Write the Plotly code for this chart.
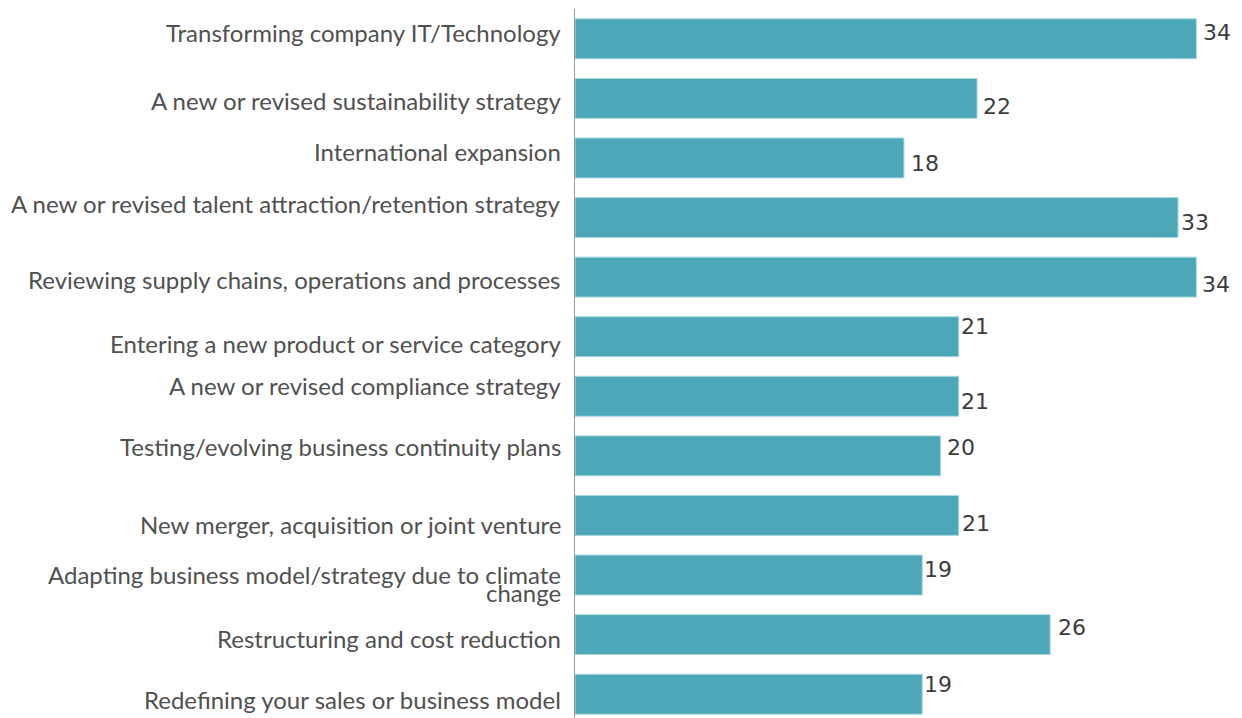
import plotly.graph_objects as go

categories = [
    "Transforming company IT/Technology",
    "A new or revised sustainability strategy",
    "International expansion",
    "A new or revised talent attraction/retention strategy",
    "Reviewing supply chains, operations and processes",
    "Entering a new product or service category",
    "A new or revised compliance strategy",
    "Testing/evolving business continuity plans",
    "New merger, acquisition or joint venture",
    "Adapting business model/strategy due to climate<br>change",
    "Restructuring and cost reduction",
    "Redefining your sales or business model",
]
values = [34, 22, 18, 33, 34, 21, 21, 20, 21, 19, 26, 19]

# the source places its labels by hand, so each one gets a small nudge (px)
# (one entry per text line of the category label)
label_yshift = [[6], [-2], [6], [14], [-2], [-7], [11], [9], [-9], [1, -17], [-4], [-5]]
value_xshift = [5, 4, 5, 1, 4, 0, 0, 5, 1, 0, 6, 0]
value_yshift = [6, -8, -6, -5, -7, 10, -5, 8, -8, 6, 7, 10]

BAR_COLOR = "#4ca7b9"
LABEL_COLOR = "#505050"
VALUE_COLOR = "#3c3c3c"

fig = go.Figure(
    go.Bar(
        x=values,
        y=categories,
        orientation="h",
        width=0.67,
        marker=dict(color=BAR_COLOR, line=dict(color="#a9d6df", width=1)),
        hoverinfo="x+y",
    )
)

# category labels on the left, one annotation per line so the
# tight line spacing of the wrapped label can be kept
for cat, shifts in zip(categories, label_yshift):
    for line, dy in zip(cat.split("<br>"), shifts):
        fig.add_annotation(
            x=0, xref="paper", xanchor="right", xshift=-12,
            y=cat, yref="y", yanchor="middle", yshift=dy,
            text=line, showarrow=False, align="right",
            font=dict(family="Lato", size=24, color=LABEL_COLOR),
        )

# value labels at the end of the bars
for cat, v, dx, dy in zip(categories, values, value_xshift, value_yshift):
    fig.add_annotation(
        x=v, xref="x", xanchor="left", xshift=dx,
        y=cat, yref="y", yanchor="middle", yshift=dy,
        text=str(v), showarrow=False,
        font=dict(family="DejaVu Sans", size=22, color=VALUE_COLOR),
    )

# the page body adds 8px around the plot, so the figure is 8px smaller
fig.update_layout(
    width=1234,
    height=710,
    margin=dict(l=567, r=0, t=1, b=0),
    paper_bgcolor="white",
    plot_bgcolor="white",
    showlegend=False,
    xaxis=dict(range=[0, 36.5], visible=False),
    yaxis=dict(
        type="category",
        categoryorder="array",
        categoryarray=categories,
        range=[11.4, -0.5],
        showticklabels=False,
        showgrid=False,
        zeroline=False,
        showline=True,
        linecolor="#9a9a9a",
        linewidth=1,
        ticks="",
    ),
)

fig.write_html("out.html")
